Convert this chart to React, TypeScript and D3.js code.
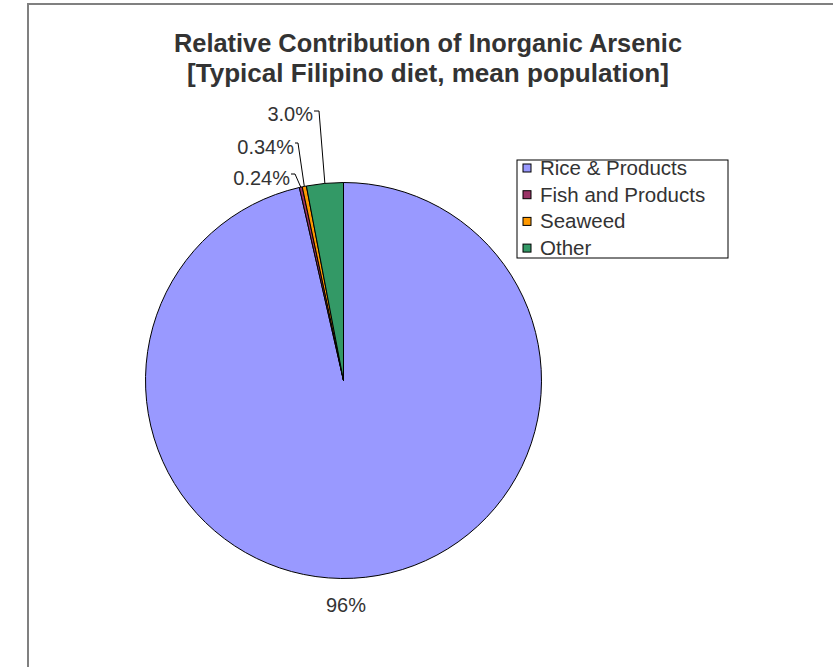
import React, { useEffect, useRef } from "react";
import * as d3 from "d3";

const categories = ["Rice & Products", "Fish and Products", "Seaweed", "Other"];
const values = [96.42, 0.24, 0.34, 3.0];
const valueLabels = ["96%", "0.24%", "0.34%", "3.0%"];
const colors = ["#9999FF", "#993366", "#FF9900", "#339966"];
const titleLines = ["Relative Contribution of Inorganic Arsenic", "[Typical Filipino diet, mean population]"];

const W = 833;
const H = 667;
const FONT = "'Liberation Sans', Arial, sans-serif";

export default function App() {
  const svgRef = useRef<SVGSVGElement>(null);

  useEffect(() => {
    if (!svgRef.current) return;
    const svg = d3.select(svgRef.current);
    svg.selectAll("*").remove();

    // chart frame (runs off the right and bottom edges)
    svg.append("rect")
      .attr("x", 28).attr("y", 4)
      .attr("width", W).attr("height", H + 20)
      .attr("fill", "#fff")
      .attr("stroke", "#808080")
      .attr("stroke-width", 2);

    // title
    svg.append("g").selectAll("text")
      .data(titleLines)
      .join("text")
      .attr("x", 428)
      .attr("y", (_, i) => 52 + i * 30)
      .attr("text-anchor", "middle")
      .attr("font-family", FONT)
      .attr("font-weight", "bold")
      .attr("font-size", 25)
      .attr("textLength", (_, i) => (i === 0 ? 508 : 482))
      .attr("lengthAdjust", "spacingAndGlyphs")
      .attr("fill", "#333")
      .text((d) => d);

    const cx = 343.5, cy = 380.5, r = 198;
    const pie = d3.pie<number>().sort(null).value((d) => d);
    const arcs = pie(values);
    const arc = d3.arc<d3.PieArcDatum<number>>().innerRadius(0).outerRadius(r);

    const g = svg.append("g").attr("transform", `translate(${cx},${cy})`);
    g.selectAll("path")
      .data(arcs)
      .join("path")
      .attr("d", arc)
      .attr("fill", (_, i) => colors[i])
      .attr("stroke", "#000")
      .attr("stroke-width", 1)
      .attr("stroke-linejoin", "round");

    // data labels
    const labelPos = [
      { x: 346, y: 612, anchor: "middle" },
      { x: 290, y: 185, lineY: 174, elbow: 295, anchor: "end" },
      { x: 294, y: 154, lineY: 143, elbow: 298, anchor: "end" },
      { x: 313, y: 121, lineY: 111, elbow: 319, anchor: "end" },
    ];

    arcs.forEach((a, i) => {
      const p = labelPos[i];
      svg.append("text")
        .attr("x", p.x).attr("y", p.y)
        .attr("text-anchor", p.anchor)
        .attr("font-family", FONT)
        .attr("font-size", 20)
        .attr("fill", "#333")
        .text(valueLabels[i]);
      if (p.elbow !== undefined) {
        const mid = (a.startAngle + a.endAngle) / 2;
        const ex = cx + r * Math.sin(mid);
        const ey = cy - r * Math.cos(mid);
        svg.append("polyline")
          .attr("points", `${p.x + 1},${p.lineY} ${p.elbow},${p.lineY} ${ex},${ey}`)
          .attr("fill", "none")
          .attr("stroke", "#000")
          .attr("stroke-width", 1);
      }
    });

    // legend
    const lg = svg.append("g").attr("transform", "translate(517,160)");
    lg.append("rect")
      .attr("width", 211).attr("height", 98)
      .attr("fill", "#fff")
      .attr("stroke", "#000")
      .attr("stroke-width", 1);
    const items = lg.selectAll("g.item")
      .data(categories)
      .join("g")
      .attr("class", "item")
      .attr("transform", (_, i) => `translate(0,${4 + i * 26.7})`);
    items.append("rect")
      .attr("x", 6).attr("y", 0)
      .attr("width", 8).attr("height", 8)
      .attr("fill", (_, i) => colors[i])
      .attr("stroke", "#000")
      .attr("stroke-width", 1);
    items.append("text")
      .attr("x", 23).attr("y", 11)
      .attr("font-family", FONT)
      .attr("font-size", 20.5)
      .attr("fill", "#333")
      .text((d) => d);
  }, []);

  return (
    <svg
      ref={svgRef}
      width={W}
      height={H}
      style={{ position: "absolute", left: 0, top: 0, background: "#fff" }}
    />
  );
}
